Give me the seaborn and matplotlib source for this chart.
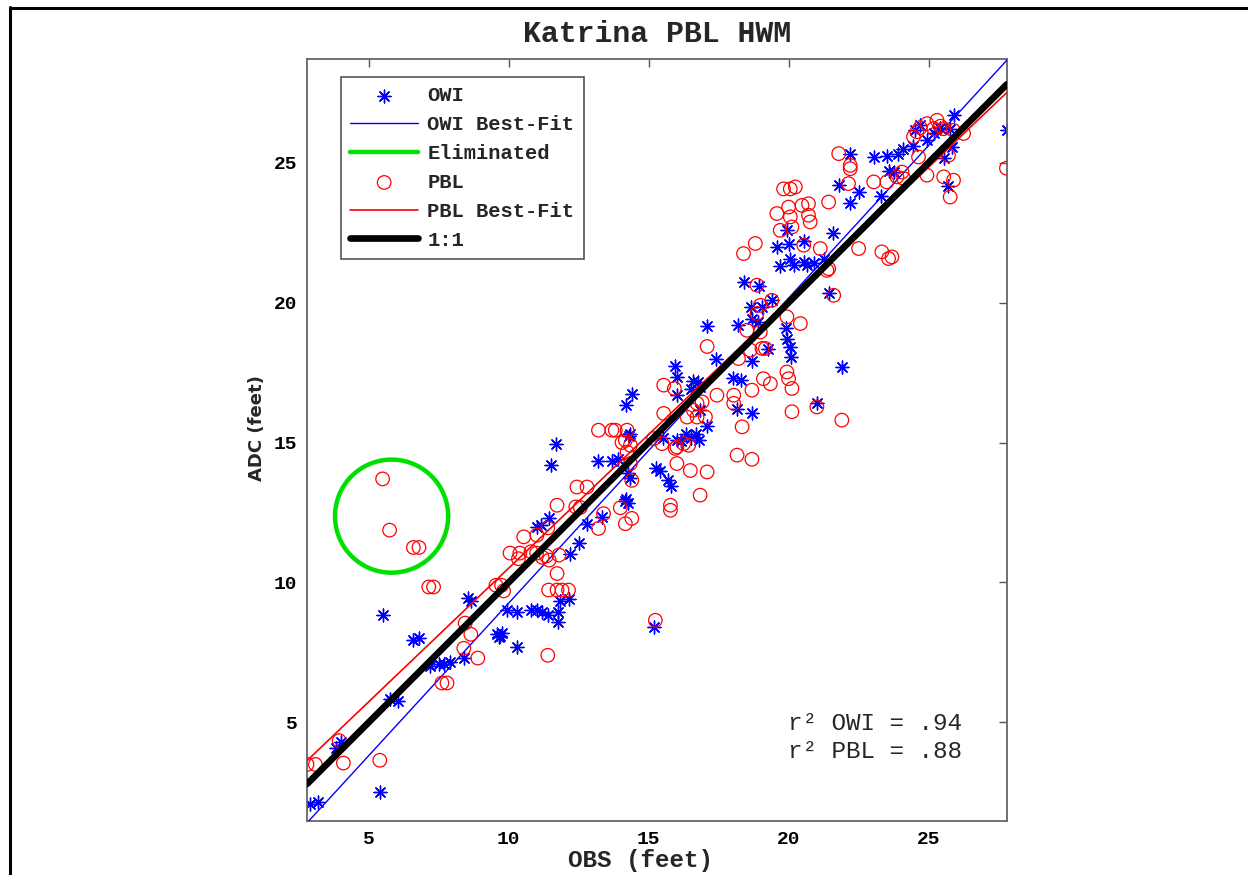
import numpy as np
import matplotlib
matplotlib.use("Agg")
import matplotlib.pyplot as plt
import seaborn as sns
from matplotlib.lines import Line2D

# ---------------- data ----------------
owi_x = [2.9, 3.2, 5.4, 4.0, 3.85, 5.75, 6.05, 5.5, 6.6, 6.8, 7.2, 7.5, 7.7, 7.9,
         8.55, 8.65, 8.4, 9.6, 9.7, 9.75, 9.65, 10.3, 9.95, 10.3, 10.8, 11.0, 11.2,
         11.4, 11.75, 11.75, 11.85, 12.15, 12.2, 12.5, 11.0, 11.15, 11.45, 12.8,
         13.35, 11.5, 11.7, 13.2, 13.7, 13.9, 14.15, 14.2, 14.25, 14.35, 14.2, 14.4,
         14.3, 14.25, 15.25, 15.4, 15.7, 15.8, 15.2, 15.5, 16.0, 16.35, 16.7, 17.1,
         16.85, 15.95, 16.0, 16.0, 16.5, 16.6, 16.75, 16.85, 16.15, 16.5, 16.8, 17.1,
         17.4, 18.0, 18.3, 18.15, 18.7, 18.7, 18.2, 18.4, 18.65, 18.9, 18.7, 19.4,
         19.25, 19.9, 19.95, 20.05, 20.1, 19.7, 21.9, 21.0, 21.45, 18.95, 19.05, 19.6,
         20.0, 20.05, 20.2, 20.55, 20.65, 20.9, 20.55, 21.25, 19.95, 21.6, 21.8, 22.2,
         22.5, 23.3, 23.6, 25.7, 22.2, 23.05, 23.5, 23.9, 24.1, 23.75, 24.45, 24.5,
         24.7, 24.95, 25.2, 25.4, 25.75, 25.9, 25.85, 25.55, 27.8, 14.35]
owi_y = [2.1, 2.15, 2.5, 4.3, 4.1, 5.85, 5.75, 8.85, 7.95, 8.0, 7.0, 7.1, 7.1, 7.15,
         9.45, 9.35, 7.3, 8.15, 8.1, 8.2, 8.05, 7.7, 9.0, 8.95, 9.0, 9.0, 8.95,
         8.85, 8.95, 8.6, 9.35, 9.4, 11.0, 11.4, 12.0, 12.05, 12.3, 12.1,
         12.35, 14.2, 14.95, 14.35, 14.35, 14.4, 12.9, 13.0, 12.85, 15.3, 16.35, 16.75,
         15.25, 13.9, 14.1, 14.0, 13.65, 13.45, 8.4, 15.15, 15.1, 15.3, 15.3, 15.6,
         16.15, 17.75, 17.35, 16.7, 16.9, 17.2, 17.15, 17.0, 15.05, 15.15, 15.1, 19.15,
         18.0, 17.3, 17.25, 16.2, 16.05, 17.9, 19.2, 20.75, 19.85, 19.3, 19.4, 20.1,
         18.35, 19.1, 18.7, 18.4, 18.05, 21.3, 17.7, 16.4, 20.35, 20.6, 19.85, 22.0,
         22.1, 21.55, 21.35, 21.45, 21.35, 21.4, 22.2, 21.55, 22.6, 22.5, 24.2, 23.55,
         23.95, 23.8, 24.7, 24.15, 25.3, 25.2, 25.25, 25.3, 25.5, 24.65, 25.6, 26.15,
         26.35, 25.8, 26.05, 26.25, 26.2, 26.7, 25.55, 25.15, 26.15, 13.75]

pbl_x = [2.8, 3.1, 4.1, 5.4, 3.95, 5.5, 5.75, 6.6, 6.8, 7.15, 7.32, 7.62, 7.8, 8.4,
         8.65, 8.9, 8.45, 9.55, 9.75, 9.82, 10.05, 10.4, 10.8, 11.0, 11.35, 10.35,
         11.2, 11.45, 11.8, 11.73, 11.43, 11.73, 11.91, 12.14, 11.4, 15.24, 10.54,
         11.01, 11.4, 11.73, 12.44, 12.8, 12.4, 12.56, 13.21, 13.39, 13.99, 14.17,
         14.4, 13.21, 13.69, 13.81, 14.23, 14.05, 14.17, 14.35, 14.23, 14.35, 14.4,
         15.18, 15.48, 15.54, 15.95, 16.01, 16.49, 17.09, 15.78, 15.78, 16.84, 16.37,
         16.73, 17.03, 16.25, 16.01, 16.43, 15.54, 15.92, 17.09, 16.6, 16.73, 16.91,
         17.44, 18.04, 18.04, 18.69, 19.1, 19.35, 19.94, 20.0, 20.12, 20.12, 21.01,
         21.9, 18.34, 18.16, 18.69, 18.51, 18.99, 18.87, 18.63, 19.05, 19.17, 18.21,
         19.94, 20.42, 19.4, 18.99, 18.87, 21.61, 21.37, 18.39, 18.81, 19.82, 20.06,
         20.24, 20.0, 20.48, 20.71, 19.58, 20.06, 20.71, 20.77, 19.7, 20.12, 20.54,
         21.13, 21.43, 22.5, 23.33, 23.57, 23.69, 21.43, 21.79, 22.2, 22.2, 22.14,
         23.04, 23.51, 23.87, 24.05, 24.11, 24.94, 24.46, 24.58, 24.7, 25.3, 25.18,
         24.94, 25.54, 25.89, 26.25, 25.42, 24.64, 25.54, 25.89, 25.77, 25.71, 27.78]
pbl_y = [3.5, 3.5, 3.55, 3.65, 4.35, 13.7, 11.87, 11.25, 11.25, 9.84, 9.84, 6.41, 6.41, 7.65,
         8.15, 7.3, 8.55, 9.9, 9.9, 9.7, 11.05, 11.05, 11.1, 11.05, 10.95, 10.85,
         10.9, 10.8, 10.98, 10.32, 9.73, 9.73, 9.73, 9.73, 7.4, 8.65, 11.63,
         11.69, 11.95, 12.76, 13.41, 13.41, 12.7, 12.68, 11.93, 12.46, 12.67, 12.1,
         12.29, 15.44, 15.44, 15.44, 15.44, 15.0, 15.08, 14.9, 14.66, 14.25, 13.65,
         15.14, 14.96, 16.04, 14.79, 14.25, 14.0, 13.95, 12.76, 12.58, 13.12, 15.91,
         15.91, 15.91, 14.96, 14.84, 14.9, 17.05, 16.93, 18.43, 16.15, 16.4, 16.45,
         16.69, 16.69, 16.4, 16.87, 17.28, 17.1, 17.52, 17.28, 16.93, 16.1, 16.27,
         15.8, 15.56, 14.55, 14.4, 19.01, 18.95, 19.61, 18.3, 18.36, 18.36, 18.0,
         19.49, 19.25, 20.08, 19.9, 20.62, 20.26, 21.15, 21.75, 22.11, 24.06, 24.06,
         24.13, 23.41, 23.47, 23.53, 23.18, 23.06, 23.12, 22.88, 22.58, 22.7, 22.05,
         21.93, 23.59, 21.93, 21.81, 21.57, 21.63, 21.21, 25.32, 24.9, 24.78, 24.25,
         24.31, 24.31, 24.49, 24.66, 24.43, 24.55, 25.92, 26.1, 26.25, 26.51, 26.21,
         26.39, 26.21, 26.15, 26.04, 26.3, 25.2, 24.49, 24.37, 23.77, 25.26, 24.8]

owi_fit = (1.09, -1.64)    # slope, intercept
pbl_fit = (0.955, 0.96)    # slope, intercept
elim_center = (5.82, 12.37)
elim_radius = 2.02
x_range = (2.8, 27.8)
y_range = (1.48, 28.7)
ticks = [5, 10, 15, 20, 25]
r2_labels = ["r\u00b2 OWI = .94", "r\u00b2 PBL = .88"]

# ---------------- style ----------------
sns.set_theme(style="white")
plt.rcParams["font.family"] = ["Liberation Mono", "DejaVu Sans"]
plt.rcParams["axes.edgecolor"] = "#555555"

fig = plt.figure(figsize=(12.48, 8.75), dpi=100)
ax = fig.add_axes([307 / 1248, 1 - 821 / 875, 700 / 1248, 762 / 875])

# OWI points
sns.scatterplot(x=owi_x, y=owi_y, marker=(8, 2, 0), color="blue", s=85,
                linewidth=1.0, label="OWI", zorder=2, ax=ax)
# OWI best fit
fx = np.array(x_range)
sns.lineplot(x=fx, y=owi_fit[0] * fx + owi_fit[1], color="blue", lw=1.0,
             label="OWI Best-Fit", zorder=3, ax=ax, sort=False, estimator=None)
# Eliminated circle
th = np.linspace(0, 2 * np.pi, 240)
sns.lineplot(x=elim_center[0] + elim_radius * np.cos(th),
             y=elim_center[1] + elim_radius * np.sin(th),
             color="#00e000", lw=3.2, label="Eliminated", zorder=4, ax=ax,
             sort=False, estimator=None)
# PBL points
sns.scatterplot(x=pbl_x, y=pbl_y, marker="o", facecolor="none", edgecolor="red",
                color="red", s=95, linewidth=0.9, label="PBL", zorder=5, ax=ax)
# PBL best fit
sns.lineplot(x=fx, y=pbl_fit[0] * fx + pbl_fit[1], color="red", lw=1.2,
             label="PBL Best-Fit", zorder=6, ax=ax, sort=False, estimator=None)
# 1:1
sns.lineplot(x=fx, y=fx, color="black", lw=4.8, label="1:1", zorder=7, ax=ax,
             sort=False, estimator=None)

ax.set_xlim(*x_range)
ax.set_ylim(*y_range)
ax.set_xticks(ticks)
ax.set_yticks(ticks)
ax.tick_params(direction="in", length=6, width=1.0, top=True, right=True,
               color="#555555", labelsize=14, pad=7, labelcolor="black")
for lab in ax.get_xticklabels() + ax.get_yticklabels():
    lab.set_fontweight("bold")
for sp in ax.spines.values():
    sp.set_linewidth(1.3)
    sp.set_color("#666666")

ax.set_title("Katrina PBL HWM", fontsize=21.5, fontweight="bold", pad=12)
ax.set_xlabel("OBS (feet)", fontsize=17.5, fontweight="bold")
ax.xaxis.set_label_coords((641 - 307) / 700, -(860 - 821) / 762)
ax.xaxis.label.set_va("center")
ax.set_ylabel("ADC (feet)", fontsize=13, fontweight="bold",
              family=["Liberation Sans Narrow", "DejaVu Sans"])
ax.yaxis.set_label_coords((257 - 307) / 700, 1 - (428 - 59) / 762)
ax.yaxis.label.set_va("center")

leg = ax.legend(loc="upper left", bbox_to_anchor=((341 - 307) / 700, 1 - (77 - 59) / 762),
                borderaxespad=0, frameon=True, fancybox=False, edgecolor="#555555",
                framealpha=1, prop={"family": "Liberation Mono", "weight": "bold", "size": 14.8},
                handlelength=3.3, handletextpad=0.45, labelspacing=0.48,
                borderpad=0.45, scatterpoints=1)
leg.get_frame().set_linewidth(1.2)

ax.text((788 - 307) / 700, 1 - (724 - 59) / 762, r2_labels[0], transform=ax.transAxes,
        fontsize=17.5, va="center", ha="left", family=["Liberation Mono", "DejaVu Sans"])
ax.text((788 - 307) / 700, 1 - (752 - 59) / 762, r2_labels[1], transform=ax.transAxes,
        fontsize=17.5, va="center", ha="left", family=["Liberation Mono", "DejaVu Sans"])

# figure frame (left and top edges)
fig.add_artist(Line2D([9.5 / 1248, 9.5 / 1248], [0, 1 - 7 / 875], transform=fig.transFigure,
                      color="black", lw=2.2))
fig.add_artist(Line2D([9.5 / 1248, 1], [1 - 8 / 875, 1 - 8 / 875], transform=fig.transFigure,
                      color="black", lw=2.2))

fig.savefig("out.png", dpi=100)
